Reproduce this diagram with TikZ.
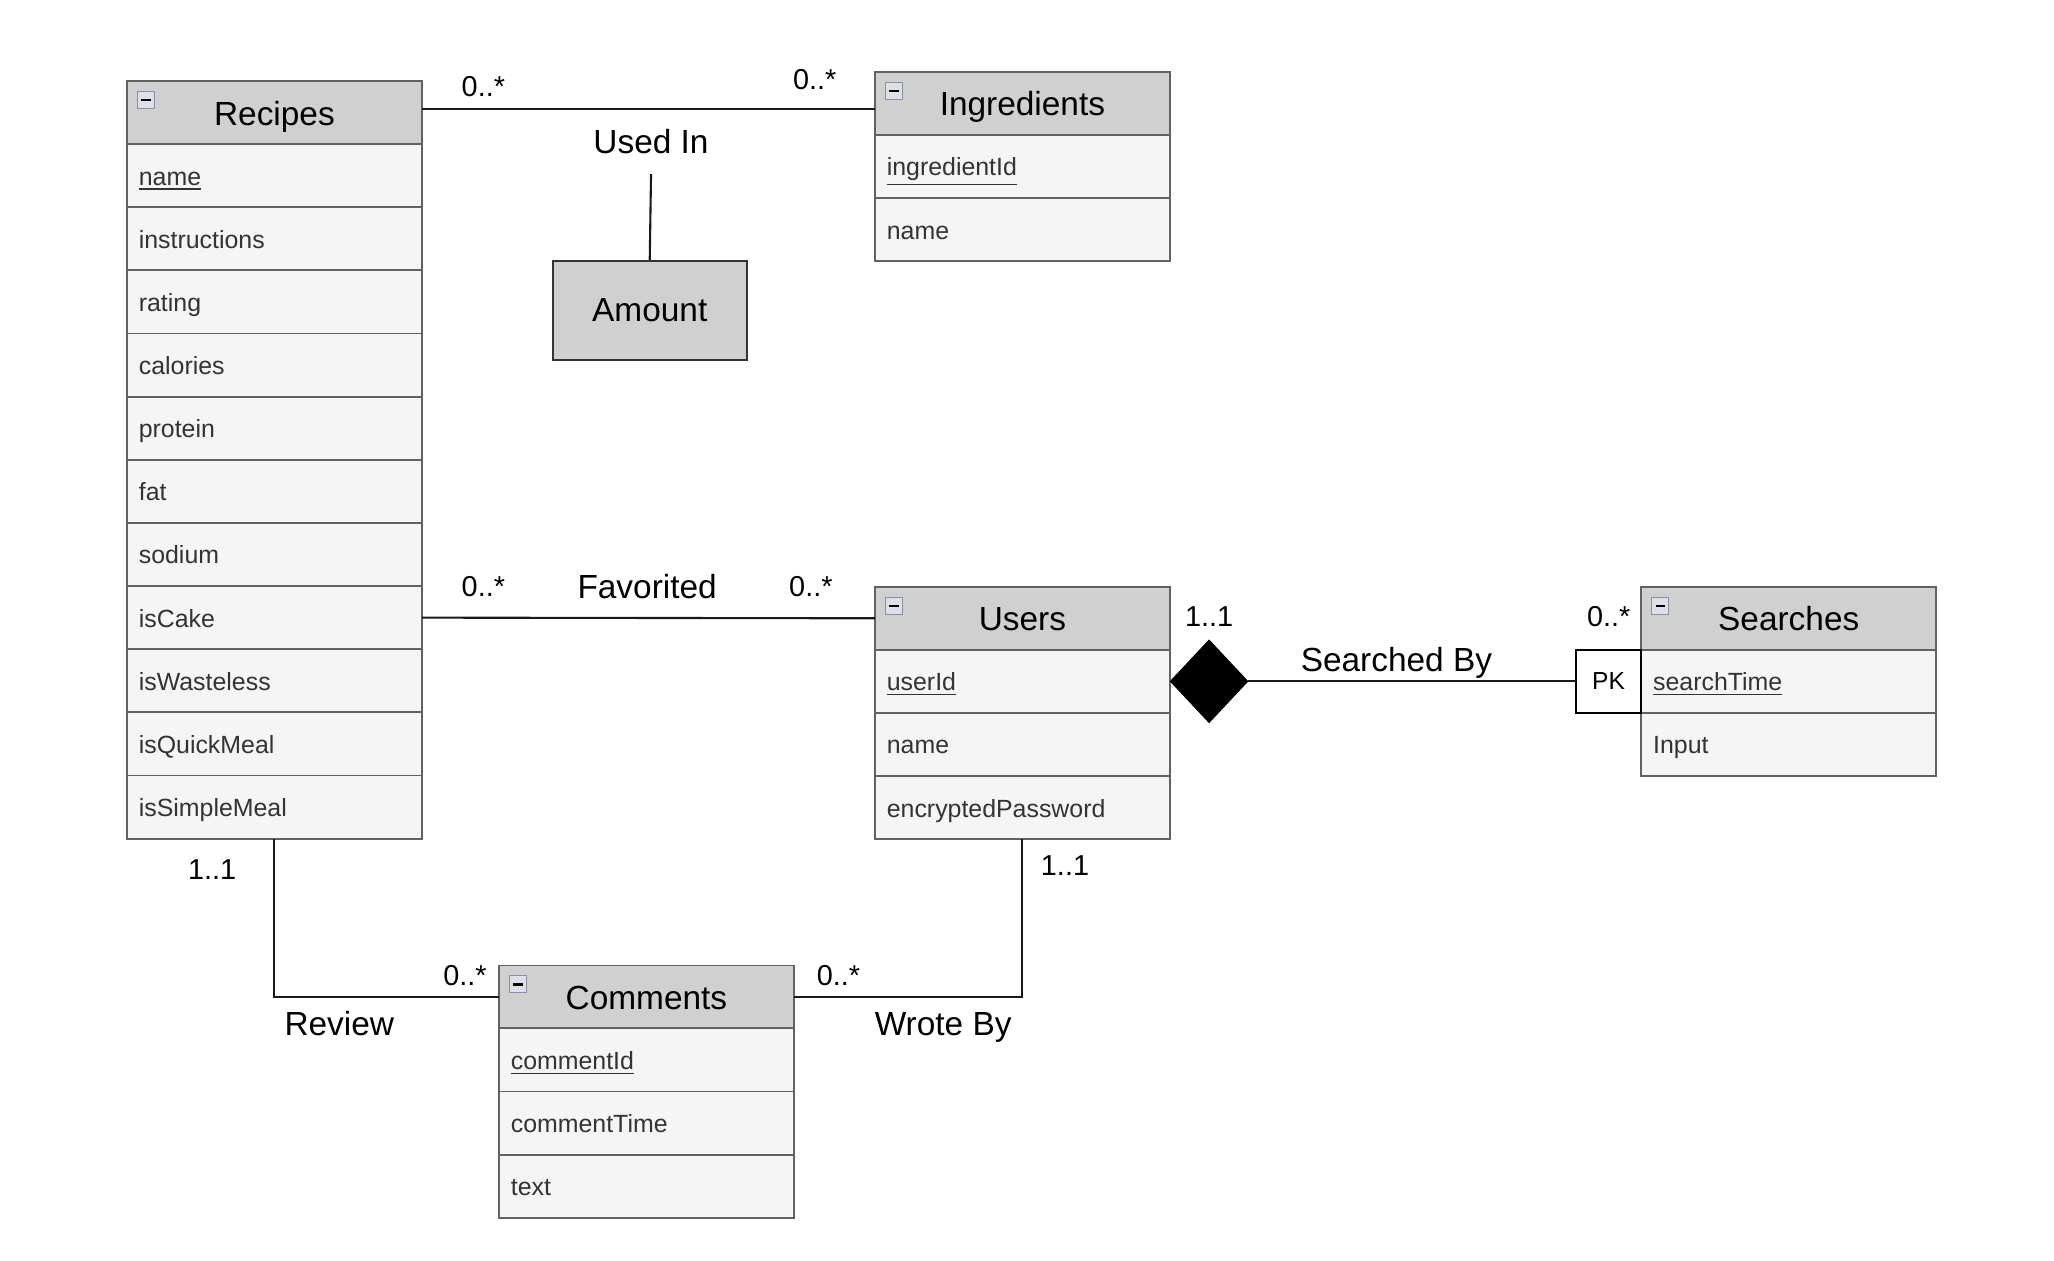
\documentclass[tikz,border=0pt]{standalone}
\usepackage{fontspec}
\setmainfont{Liberation Sans}
\usetikzlibrary{positioning, shapes.geometric}
\definecolor{hdrgray}{HTML}{D0D0D0}
\definecolor{rowgray}{HTML}{F5F5F5}
\definecolor{edgegray}{HTML}{626262}
\definecolor{txtgray}{HTML}{333333}
\definecolor{iconedge}{HTML}{8A90A0}
\definecolor{iconfill}{HTML}{DDE0E8}
\tikzset{
  entity/.style = {draw = edgegray, line width = 0.7pt, fill = hdrgray, minimum width = 112.5pt, minimum height = 24pt, inner sep = 0pt, outer sep = 0pt, text height = 0.95em, text depth = 0pt, font = \fontsize{12.75}{14}\selectfont},
  attr/.style = {draw = edgegray, line width = 0.7pt, fill = rowgray, minimum width = 112.5pt, text width = 103.5pt, align = left, minimum height = 24.1pt, inner xsep = 4.5pt, inner ysep = 0pt, outer sep = 0pt, text height = 0.72em, text depth = 0pt, text = txtgray, font = \fontsize{9.5}{11}\selectfont},
  minus icon/.style = {draw = iconedge, fill = iconfill, line width = 0.4pt, minimum size = 6.5pt, inner sep = 0pt, outer sep = 0pt,
    path picture = {\draw[line width = 0.9pt, black] ([xshift = 1.4pt]path picture bounding box.west) -- ([xshift = -1.4pt]path picture bounding box.east);}},
  mult/.style = {font = \fontsize{11}{13}\selectfont},
  rel/.style = {font = \fontsize{12.75}{15}\selectfont},
  assoc/.style = {draw = black!90, line width = 0.8pt}
}

\begin{document}
\begin{tikzpicture}[x = 0.5pt, y = -0.5pt]
\useasboundingbox (0,0) rectangle (1568,962);

% Recipes
\node[entity, anchor = north west] (recH) at (97,62) {Recipes};
\node[attr, below = 0pt of recH] (recName) {\underline{name}};
\node[attr, below = 0pt of recName] (recInstr) {instructions};
\node[attr, below = 0pt of recInstr] (recRating) {rating};
\node[attr, below = 0pt of recRating] (recCal) {calories};
\node[attr, below = 0pt of recCal] (recProt) {protein};
\node[attr, below = 0pt of recProt] (recFat) {fat};
\node[attr, below = 0pt of recFat] (recSod) {sodium};
\node[attr, below = 0pt of recSod] (recCake) {isCake};
\node[attr, below = 0pt of recCake] (recWaste) {isWasteless};
\node[attr, below = 0pt of recWaste] (recQuick) {isQuickMeal};
\node[attr, below = 0pt of recQuick] (recSimple) {isSimpleMeal};
\node[minus icon, below right = 4pt and 4pt of recH.north west] (recMin) {};

% Ingredients
\node[entity, anchor = north west] (ingH) at (668,55) {Ingredients};
\node[attr, below = 0pt of ingH] (ingId) {\underline{ingredientId}};
\node[attr, below = 0pt of ingId] (ingName) {name};
\node[minus icon, below right = 4pt and 4pt of ingH.north west] (ingMin) {};

% Users
\node[entity, anchor = north west] (usrH) at (668,448) {Users};
\node[attr, below = 0pt of usrH] (usrId) {\underline{userId}};
\node[attr, below = 0pt of usrId] (usrName) {name};
\node[attr, below = 0pt of usrName] (usrPw) {encryptedPassword};
\node[minus icon, below right = 4pt and 4pt of usrH.north west] (usrMin) {};

% Searches
\node[entity, anchor = north west] (srchH) at (1253,448) {Searches};
\node[attr, below = 0pt of srchH] (srchTime) {\underline{searchTime}};
\node[attr, below = 0pt of srchTime] (srchInput) {Input};
\node[minus icon, below right = 4pt and 4pt of srchH.north west] (srchMin) {};
\node[draw = black, fill = white, line width = 0.7pt, minimum width = 25pt, minimum height = 24.1pt, inner sep = 0pt, outer sep = 0pt, font = \fontsize{9.4}{11}\selectfont, left = 0pt of srchTime] (pk) {PK};

% Comments
\node[entity, anchor = north west] (comH) at (381,737) {Comments};
\node[attr, below = 0pt of comH] (comId) {\underline{commentId}};
\node[attr, below = 0pt of comId] (comTime) {commentTime};
\node[attr, below = 0pt of comTime] (comText) {text};
\node[minus icon, below right = 4pt and 4pt of comH.north west] (comMin) {};

% Amount
\node[draw = black!80, fill = hdrgray, line width = 0.7pt, minimum width = 74pt, minimum height = 38pt, rel] (amount) at (496,237) {Amount};

% diamond
\node[diamond, fill = black, minimum width = 30pt, minimum height = 32pt, inner sep = 0pt, outer sep = 0pt, right = 0pt of usrId] (diam) {};

% connectors
\coordinate (uitop) at (497,133);
\draw[assoc] ([yshift = -2pt]ingH.west) -- ([yshift = -2pt]ingH.west -| recH.east);
\draw[assoc] (uitop) -- (amount.north);
\draw[assoc] (recCake.east) -- (usrH.west);
\draw[assoc] (diam.east) -- (pk.west);
\draw[assoc] (recSimple.south) |- (comH.west);
\draw[assoc] (usrPw.south) |- (comH.east);

% labels
\node[mult] (m1) at (369,66) {0..*};
\node[mult] (m2) at (622,61) {0..*};
\node[rel] (usedin) at (497,108) {Used In};
\node[mult] (m3) at (369,448) {0..*};
\node[rel] (fav) at (494,448) {Favorited};
\node[mult] (m4) at (619,448) {0..*};
\node[mult] (m5) at (923,471) {1..1};
\node[rel] (srchby) at (1066,506) {Searched By};
\node[mult] (m6) at (1228,471) {0..*};
\node[mult] (m7) at (162,664) {1..1};
\node[rel] (review) at (259,781) {Review};
\node[mult] (m8) at (355,745) {0..*};
\node[mult] (m9) at (813,661) {1..1};
\node[mult] (m10) at (640,745) {0..*};
\node[rel] (wroteby) at (720,784) {Wrote By};
\end{tikzpicture}
\end{document}
